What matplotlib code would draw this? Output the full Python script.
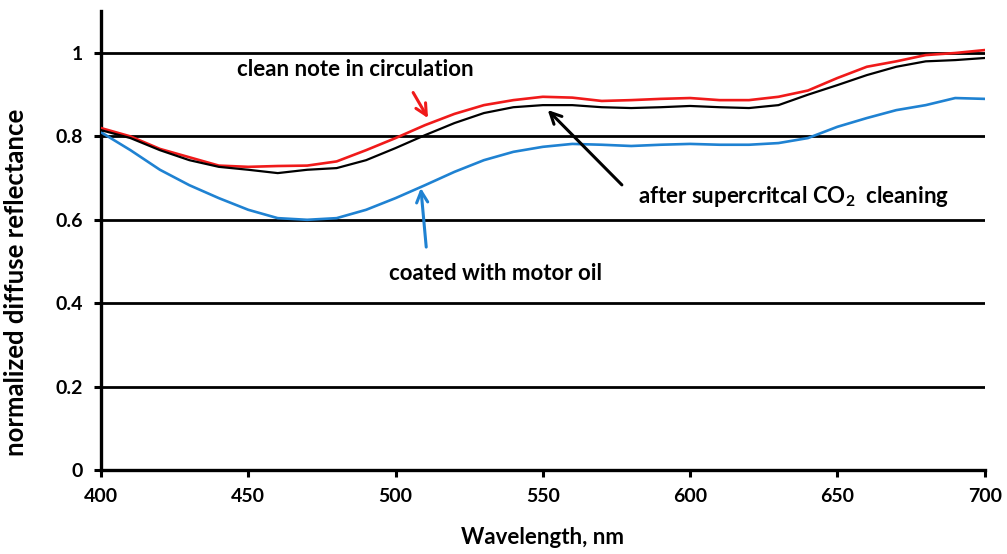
import numpy as np
import matplotlib.pyplot as plt

plt.rcParams['font.family'] = ['Lato', 'DejaVu Sans']
plt.rcParams['font.weight'] = 'bold'
plt.rcParams['mathtext.fontset'] = 'custom'
plt.rcParams['mathtext.rm'] = 'Lato:bold'
plt.rcParams['mathtext.bf'] = 'Lato:bold'

# reflectance spectra, sampled every 10 nm
wavelength = np.arange(400, 701, 10)
clean = [0.82, 0.80, 0.77, 0.75, 0.73, 0.727, 0.729, 0.73, 0.74, 0.767, 0.796,
         0.827, 0.854, 0.875, 0.887, 0.895, 0.893, 0.885, 0.887, 0.89, 0.892,
         0.887, 0.887, 0.895, 0.91, 0.94, 0.967, 0.98, 0.995, 1.0, 1.007]
co2_cleaned = [0.815, 0.796, 0.767, 0.743, 0.727, 0.72, 0.712, 0.72, 0.724, 0.743,
               0.772, 0.803, 0.832, 0.856, 0.87, 0.875, 0.875, 0.87, 0.868, 0.87,
               0.873, 0.87, 0.868, 0.875, 0.9, 0.923, 0.947, 0.967, 0.98, 0.983, 0.988]
motor_oil = [0.81, 0.767, 0.72, 0.683, 0.652, 0.624, 0.604, 0.6, 0.604, 0.624,
             0.652, 0.683, 0.715, 0.743, 0.763, 0.775, 0.782, 0.78, 0.777, 0.78,
             0.782, 0.78, 0.78, 0.784, 0.796, 0.823, 0.844, 0.863, 0.875, 0.892, 0.89]

x_ticks = [400, 450, 500, 550, 600, 650, 700]
y_ticks = [0, 0.2, 0.4, 0.6, 0.8, 1.0]
y_labels = ['0', '0.2', '0.4', '0.6', '0.8', '1']

fig = plt.figure(figsize=(10.07, 5.54), dpi=100)
ax = fig.add_axes([0.1003, 0.1516, 0.8775, 0.828])

for yv in y_ticks[1:]:
    ax.axhline(yv, color='black', lw=2.0, zorder=1)

ax.plot(wavelength, clean, color='#f01a1a', lw=1.9, zorder=3)
ax.plot(wavelength, motor_oil, color='#1f82d2', lw=1.9, zorder=3)
ax.plot(wavelength, co2_cleaned, color='black', lw=1.6, zorder=4)

ax.set_xlim(400, 700)
ax.set_ylim(0, 1.1)
ax.set_xticks(x_ticks)
ax.set_yticks(y_ticks)
ax.set_yticklabels(y_labels)
for s in ['top', 'right']:
    ax.spines[s].set_visible(False)
for s in ['left', 'bottom']:
    ax.spines[s].set_linewidth(2.4)
ax.tick_params(direction='out', length=5, width=2.2, labelsize=14, pad=8)
for lab in ax.get_xticklabels() + ax.get_yticklabels():
    lab.set_fontweight('bold')

ax.set_xlabel('Wavelength, nm', fontsize=16, fontweight='bold', labelpad=16)
ax.set_ylabel('normalized diffuse reflectance', fontsize=18.5, fontweight='bold')
ax.yaxis.set_label_coords(-0.0825, 0.408)

# curve labels with arrows
ax.annotate('', xy=(511.5, 0.838), xytext=(505.5, 0.911),
            arrowprops=dict(arrowstyle='->', color='#f01a1a', lw=2.2, mutation_scale=20))
ax.text(486.5, 0.96, 'clean note in circulation', fontsize=16, fontweight='bold',
        ha='center', va='center')

ax.annotate('', xy=(551, 0.868), xytext=(577.5, 0.679),
            arrowprops=dict(arrowstyle='->', color='black', lw=2.2, mutation_scale=20))
ax.text(635, 0.657, 'after supercritcal CO$_2$  cleaning', fontsize=16,
        fontweight='bold', ha='center', va='center')

ax.annotate('', xy=(508.5, 0.683), xytext=(510.5, 0.528),
            arrowprops=dict(arrowstyle='->', color='#1f82d2', lw=2.2, mutation_scale=20))
ax.text(534, 0.472, 'coated with motor oil', fontsize=16, fontweight='bold',
        ha='center', va='center')

fig.savefig('out.png', dpi=100)
